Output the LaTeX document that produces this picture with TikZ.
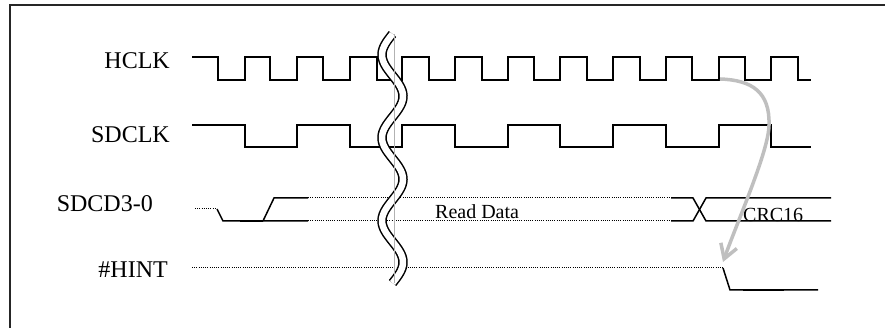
\documentclass[tikz,border=0pt]{standalone}
\usepackage{fontspec}
\setmainfont{Liberation Serif}
\usetikzlibrary{arrows.meta}
\begin{document}
\begin{tikzpicture}[x=1pt,y=-1pt,
  sig/.style={line width=1.5pt, line join=miter},
  dots/.style={line width=1pt, dash pattern=on 1pt off 1.2pt},
  lbl/.style={inner sep=0pt, anchor=base east, font=\fontsize{24}{28}\selectfont},
  dlbl/.style={inner sep=0pt, anchor=base west, font=\fontsize{20}{24}\selectfont},
  brk/.style={line width=1.5pt, double=white, double distance=6.5pt},
  hintarrow/.style={line width=3.5pt, draw=black!25, -{Straight Barb[length=14pt,width=17pt]}}]
\useasboundingbox (0,0) rectangle (885,328);
% frame
\draw[line width=1.5pt, black!85] (10,340) -- (10,5) -- (895,5);
% labels
\node[lbl] (hclk) at (170,69) {HCLK};
\node[lbl] (sdclk) at (170,143) {SDCLK};
\node[lbl] (sdcd) at (153,212) {SDCD3-0};
\node[lbl] (hint) at (168,278) {\#HINT};
% HCLK
\draw[sig] (192,57) -| (218,80) -| (245,57) -| (270,80) -| (297,57) -| (323,80) -| (350,57) -| (377,80) -| (402,57) -| (429,80) -| (455,57) -| (482,80) -| (508,57) -| (534,80) -| (560,57) -| (587,80) -| (613,57) -| (640,80) -| (666,57) -| (692,80) -| (719,57) -| (745,80) -| (771,57) -| (798,80) -- (811,80);
% SDCLK
\draw[sig] (192,125) -| (245,147) -| (297,125) -| (350,147) -| (402,125) -| (455,147) -| (508,125) -| (560,147) -| (613,125) -| (666,147) -| (719,125) -| (771,147) -- (811,147);
% SDCD3-0
\draw[dots] (195,209) -- (217,209);
\draw[sig] (217,209) -- (223,221) -- (308,221);
\draw[sig, line width=2.5pt] (240,221) -- (263,221);
\draw[sig] (263,221) -- (274,198) -- (308,198);
\draw[dots] (308,198) -- (671,198);
\draw[dots] (308,221) -- (671,221);
\draw[sig] (671,198) -- (693,198) -- (706,221) -- (831,221);
\draw[sig] (671,221) -- (693,221) -- (706,198) -- (831,198);
\node[dlbl] (rd) at (435,219) {Read Data};
\node[dlbl] (crc) at (743,222) {CRC16};
% #HINT
\draw[dots] (192,268) -- (723,268);
\draw[sig] (723,268) -- (730,290) -- (818,290);
\draw[sig, line width=2pt] (743,290) -- (784,290);
% break
\draw[brk] plot[domain=34:283, samples=150, smooth] ({392.5 - 10.5*sin((\x-34)/41.5*180)}, \x);
\draw[gray!60, line width=0.6pt] (394,34) -- (394,283);
% grey arrow
\draw[hintarrow] (720,79) .. controls (752,80) and (770,92) .. (769,125) .. controls (769,150) and (738,220) .. (723,262);
\end{tikzpicture}
\end{document}
